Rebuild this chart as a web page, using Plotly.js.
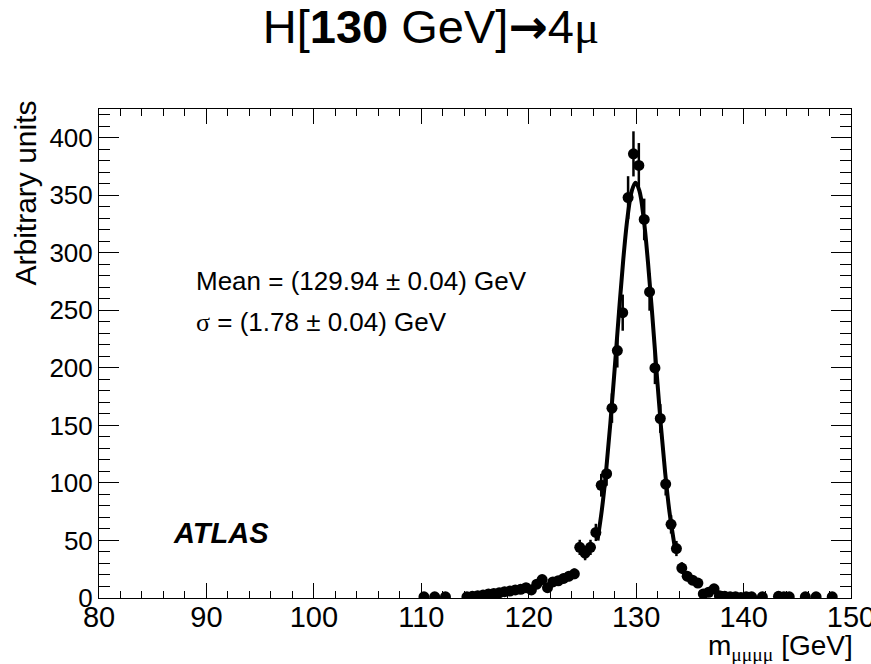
<!DOCTYPE html>
<html>
<head>
<meta charset="utf-8">
<script src="https://cdn.plot.ly/plotly-3.0.1.min.js"></script>
<style>html,body{margin:0;padding:0;background:#fff;}#chart{width:871px;height:664px;}</style>
</head>
<body>
<div id="chart"></div>
<script>
// Histogram bin centres (GeV), contents and errors
const massBins = [110.25,111.25,112.25,114.25,114.75,115.25,115.75,116.25,116.75,117.25,117.75,118.25,118.75,119.25,119.75,120.25,120.75,121.25,121.75,122.25,122.75,123.25,123.75,124.25,124.75,125.25,125.75,126.25,126.75,127.25,127.75,128.25,128.75,129.25,129.75,130.25,130.75,131.25,131.75,132.25,132.75,133.25,133.75,134.25,134.75,135.25,135.75,136.25,136.75,137.25,137.75,138.25,138.75,139.25,139.75,140.25,140.75,141.75,143.25,143.75,144.25,145.75,146.75,148.25];
const counts = [1,1,1,1,1.5,2,2.5,3.5,4,4.5,5.5,6,7,7.5,9,7,12,16,9,14,15,17,19,21,44,39,44,57,98,108,165,215,248,348,386,376,329,266,200,156,99,64,43,26,19,15.5,13,3.5,5,8,2,1.5,1,1,0.5,1,1,1,1.5,1,1,1,1,1];
const countErrors = [1,1,1,1,1.2,1.4,1.6,1.9,2,2.1,2.3,2.4,2.6,2.7,3,2.6,3.5,4,3,3.7,3.9,4.1,4.4,4.6,6.6,6.2,6.6,7.5,9.9,10.4,12.8,14.7,15.7,18.6,19.6,19.4,18.1,16.3,14.1,12.5,9.9,8,6.6,5.1,4.4,3.9,3.6,1.9,2.2,2.8,1.4,1.2,1,1,0.7,1,1,1,1.2,1,1,1,1,1];

// Fit curve points
const fitMass = [126.4,126.8,127.2,127.6,128.0,128.4,128.8,129.2,129.6,129.94,130.3,130.7,131.1,131.5,131.9,132.3,132.7,133.1,133.6];
const fitValues = [50,76,110,152,199,248,294,331,354,361,354,330,292,246,197,150,109,75,44];

const xTickVals = [80,90,100,110,120,130,140,150];
const yTickVals = [0,50,100,150,200,250,300,350,400];

const FONT = "'Liberation Sans', Arial, Helvetica, sans-serif";

const traces = [
  {
    type: 'scatter', mode: 'lines', x: fitMass, y: fitValues,
    line: {color: '#000', width: 4, shape: 'spline'}, hoverinfo: 'skip', showlegend: false
  },
  {
    type: 'scatter', mode: 'markers', x: massBins, y: counts,
    marker: {color: '#000', size: 11, symbol: 'circle'},
    error_y: {type: 'data', array: countErrors, visible: true, color: '#000', thickness: 2.5, width: 0},
    showlegend: false
  }
];

const layout = {
  width: 871, height: 664,
  margin: {l: 99, r: 20, t: 109, b: 66, pad: 0},
  paper_bgcolor: '#fff', plot_bgcolor: '#fff',
  font: {family: FONT, color: '#000'},
  showlegend: false,
  title: {
    text: "H[<b>130</b> GeV]<span style=\"font-family:DejaVu Sans\"><b>→</b></span>4<span style=\"font-family:Liberation Serif\">μ</span>",
    font: {family: FONT, size: 47, color: '#000'},
    x: 431/871, xanchor: 'center', xref: 'container',
    y: 1 - 27/664, yanchor: 'middle', yref: 'container'
  },
  xaxis: {
    range: [80, 150], tickvals: xTickVals, ticktext: xTickVals.map(String),
    ticks: 'inside', ticklen: 15, tickwidth: 1, tickcolor: '#000',
    minor: {dtick: 2, ticks: 'inside', ticklen: 7, tickcolor: '#000', tickwidth: 1},
    showline: true, linecolor: '#000', linewidth: 1, mirror: 'allticks',
    showgrid: false, zeroline: false, ticklabeloverflow: 'allow',
    ticklabelstandoff: -7,
    tickfont: {family: FONT, size: 29, color: '#000'}
  },
  yaxis: {
    range: [0, 425], tickvals: yTickVals, ticktext: yTickVals.map(String),
    ticks: 'inside', ticklen: 20, tickwidth: 1, tickcolor: '#000',
    minor: {dtick: 10, ticks: 'inside', ticklen: 11, tickcolor: '#000', tickwidth: 1},
    showline: true, linecolor: '#000', linewidth: 1, mirror: 'allticks',
    showgrid: false, zeroline: false, ticklabeloverflow: 'allow',
    tickfont: {family: FONT, size: 26, color: '#000'}
  },
  annotations: [
    {
      text: 'Mean = (129.94 ± 0.04) GeV', xref: 'paper', yref: 'paper',
      x: (194-99)/752, y: (598-281)/489, xanchor: 'left', yanchor: 'middle',
      showarrow: false, font: {family: FONT, size: 26, color: '#000'}
    },
    {
      text: "<span style=\"font-family:Liberation Serif\">σ</span> = (1.78 ± 0.04) GeV", xref: 'paper', yref: 'paper',
      x: (194-99)/752, y: (598-322)/489, xanchor: 'left', yanchor: 'middle',
      showarrow: false, font: {family: FONT, size: 26, color: '#000'}
    },
    {
      text: '<b><i>ATLAS</i></b>', xref: 'paper', yref: 'paper',
      x: (171-99)/752, y: (598-533)/489, xanchor: 'left', yanchor: 'middle',
      showarrow: false, font: {family: FONT, size: 29, color: '#000'}
    },
    {
      text: 'Arbitrary units', xref: 'paper', yref: 'paper', textangle: -90,
      x: (25-99)/752, y: (598-99)/489, xanchor: 'center', yanchor: 'top',
      showarrow: false, font: {family: FONT, size: 30, color: '#000'}
    },
    {
      text: "m<sub><span style=\"font-family:Liberation Serif\">μμμμ</span></sub> [GeV]", xref: 'paper', yref: 'paper',
      x: (855-99)/752, y: (598-667)/489, xanchor: 'right', yanchor: 'bottom',
      showarrow: false, font: {family: FONT, size: 28, color: '#000'}
    }
  ]
};

Plotly.newPlot('chart', traces, layout, {displayModeBar: false, staticPlot: true});
</script>
</body>
</html>
